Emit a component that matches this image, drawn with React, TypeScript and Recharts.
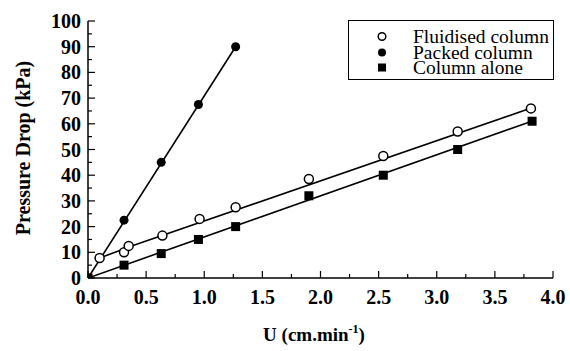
import React from "react";
import {
  ComposedChart,
  Scatter,
  Line,
  XAxis,
  YAxis,
} from "recharts";

// measured points
const fluidU = [0.1, 0.31, 0.35, 0.64, 0.96, 1.27, 1.9, 2.54, 3.18, 3.81];
const fluidP = [7.8, 10, 12.5, 16.5, 23, 27.5, 38.5, 47.5, 57, 66];
const packedU = [0, 0.31, 0.63, 0.95, 1.27];
const packedP = [0, 22.5, 45, 67.5, 90];
const aloneU = [0, 0.31, 0.63, 0.95, 1.27, 1.9, 2.54, 3.18, 3.82];
const aloneP = [0, 5, 9.5, 15, 20, 32, 40, 50, 61];

// fitted lines as drawn in the figure
const fluidFitU = [0.1, 0.4, 3.83];
const fluidFitP = [7.8, 12.8, 66.4];
const packedFitU = [0, 1.27];
const packedFitP = [0, 90];
const aloneFitU = [0, 3.83];
const aloneFitP = [0, 61.2];

const xTicks = [0, 0.25, 0.5, 0.75, 1, 1.25, 1.5, 1.75, 2, 2.25, 2.5, 2.75, 3, 3.25, 3.5, 3.75, 4];
const yTicks = [0, 5, 10, 15, 20, 25, 30, 35, 40, 45, 50, 55, 60, 65, 70, 75, 80, 85, 90, 95, 100];

const legendItems = [
  { name: "Fluidised column", shape: "open" },
  { name: "Packed column", shape: "filled" },
  { name: "Column alone", shape: "square" },
];

const toRows = (u: number[], p: number[]) => u.map((v, i) => ({ u: v, p: p[i] }));

const FONT = "Liberation Serif";

const OpenCircle = (props: any) => (
  <circle cx={props.cx} cy={props.cy} r={4.5} fill="#fff" stroke="#000" strokeWidth={1.5} />
);
const FilledCircle = (props: any) => (
  <circle cx={props.cx} cy={props.cy} r={4.5} fill="#000" />
);
const FilledSquare = (props: any) => (
  <rect x={props.cx - 4.5} y={props.cy - 4.5} width={9} height={9} fill="#000" />
);

const XTick = (props: any) => {
  const { x, y, payload } = props;
  const v = payload.value;
  const major = Math.abs(v * 2 - Math.round(v * 2)) < 1e-6;
  return (
    <g>
      <line x1={x} x2={x} y1={y} y2={y - (major ? 7 : 4)} stroke="#000" strokeWidth={1.2} />
      {major && (
        <text x={x} y={y + 26} textAnchor="middle" fontFamily={FONT} fontWeight="bold" fontSize={20} fill="#000">
          {v.toFixed(1)}
        </text>
      )}
    </g>
  );
};

const YTick = (props: any) => {
  const { x, y, payload } = props;
  const v = payload.value;
  const major = v % 10 === 0;
  return (
    <g>
      <line x1={x} x2={x + (major ? 7 : 4)} y1={y} y2={y} stroke="#000" strokeWidth={1.2} />
      {major && (
        <text x={x - 7} y={y + 7} textAnchor="end" fontFamily={FONT} fontWeight="bold" fontSize={20} fill="#000">
          {v}
        </text>
      )}
    </g>
  );
};

const LegendBox = () => (
  <div
    style={{
      position: "absolute",
      left: 348,
      top: 20,
      width: 206,
      height: 60,
      border: "1.5px solid #000",
      boxSizing: "border-box",
      background: "#fff",
      fontFamily: FONT,
      fontSize: 19.5,
      lineHeight: "15.5px",
      paddingTop: 8,
      color: "#000",
      whiteSpace: "nowrap",
    }}
  >
    {legendItems.map((it) => (
      <div key={it.name} style={{ display: "flex", alignItems: "center", height: 15.5, overflow: "visible" }}>
        <svg width={64} height={15} style={{ flex: "none" }}>
          {it.shape === "open" && <circle cx={33} cy={7.5} r={3.8} fill="#fff" stroke="#000" strokeWidth={1.5} />}
          {it.shape === "filled" && <circle cx={33} cy={7.5} r={4} fill="#000" />}
          {it.shape === "square" && <rect x={29} y={3.5} width={8} height={8} fill="#000" />}
        </svg>
        <span style={{ display: "inline-block", height: 15.5, lineHeight: "15.5px", overflow: "visible" }}>{it.name}</span>
      </div>
    ))}
  </div>
);

export default function App() {
  return (
    <div style={{ position: "absolute", left: 0, top: 0, width: 570, height: 351, background: "#fff" }}>
      <ComposedChart width={570} height={351} margin={{ top: 21, right: 17, bottom: 0, left: 28 }}>
        <XAxis
          xAxisId="b"
          type="number"
          dataKey="u"
          domain={[0, 4]}
          ticks={xTicks}
          interval={0}
          tickSize={0}
          tickMargin={0}
          tickLine={false}
          tick={<XTick />}
          height={73}
          axisLine={{ stroke: "#000", strokeWidth: 1.5 }}
          allowDataOverflow
          label={{
            content: () => (
              <text x={314} y={341} textAnchor="middle" fontFamily={FONT} fontWeight="bold" fontSize={19} fill="#000">
                U (cm.min
                <tspan dy={-8} fontSize={12}>-1</tspan>
                <tspan dy={8}>)</tspan>
              </text>
            ),
          }}
        />
        <XAxis xAxisId="t" type="number" orientation="top" domain={[0, 4]} height={0} tick={false} tickLine={false} axisLine={{ stroke: "#000", strokeWidth: 1.5 }} />
        <YAxis
          yAxisId="l"
          type="number"
          dataKey="p"
          domain={[0, 100]}
          ticks={yTicks}
          interval={0}
          tickSize={0}
          tickMargin={0}
          tickLine={false}
          tick={<YTick />}
          width={60}
          axisLine={{ stroke: "#000", strokeWidth: 1.5 }}
          allowDataOverflow
          label={{
            content: () => {
              const cx = 23;
              const cy = 148;
              return (
                <text x={cx} y={cy} transform={`rotate(-90 ${cx} ${cy})`} textAnchor="middle" dominantBaseline="central" fontFamily={FONT} fontWeight="bold" fontSize={20} fill="#000">
                  Pressure Drop (kPa)
                </text>
              );
            },
          }}
        />
        <YAxis yAxisId="r" type="number" orientation="right" domain={[0, 100]} width={0} tick={false} tickLine={false} axisLine={{ stroke: "#000", strokeWidth: 1.5 }} />

        <Line xAxisId="b" yAxisId="l" data={toRows(fluidFitU, fluidFitP)} dataKey="p" type="linear" stroke="#000" strokeWidth={1.6} dot={false} activeDot={false} isAnimationActive={false} legendType="none" />
        <Line xAxisId="b" yAxisId="l" data={toRows(packedFitU, packedFitP)} dataKey="p" type="linear" stroke="#000" strokeWidth={1.6} dot={false} activeDot={false} isAnimationActive={false} legendType="none" />
        <Line xAxisId="b" yAxisId="l" data={toRows(aloneFitU, aloneFitP)} dataKey="p" type="linear" stroke="#000" strokeWidth={1.6} dot={false} activeDot={false} isAnimationActive={false} legendType="none" />

        <Scatter xAxisId="b" yAxisId="l" name="Packed column" data={toRows(packedU, packedP)} dataKey="p" shape={<FilledCircle />} isAnimationActive={false} />
        <Scatter xAxisId="b" yAxisId="l" name="Fluidised column" data={toRows(fluidU, fluidP)} dataKey="p" shape={<OpenCircle />} isAnimationActive={false} />
        <Scatter xAxisId="b" yAxisId="l" name="Column alone" data={toRows(aloneU, aloneP)} dataKey="p" shape={<FilledSquare />} isAnimationActive={false} />
      </ComposedChart>
      <LegendBox />
    </div>
  );
}
